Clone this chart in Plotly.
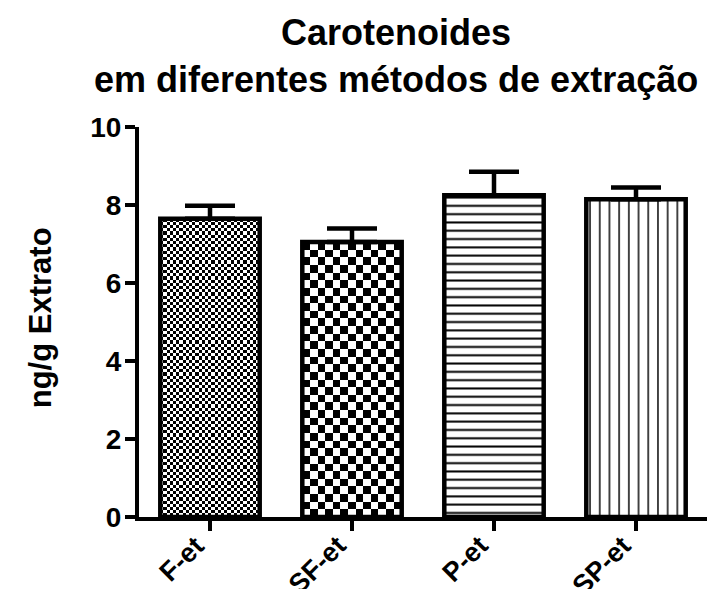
import numpy as np
import plotly.graph_objects as go

# Carotenoid content per extraction method (mean and upper error)
categories = ["F-et", "SF-et", "P-et", "SP-et"]
means = [7.65, 7.05, 8.25, 8.15]
errors = [0.33, 0.35, 0.60, 0.30]
y_ticks = [0, 2, 4, 6, 8, 10]

W, H = 707, 589
MARGIN = dict(l=139, r=0, t=127, b=72)
BAR_W = 0.7
FONT = "Liberation Sans, Arial, sans-serif"

x = np.arange(len(categories))
px_per_x = (W - MARGIN["l"] - MARGIN["r"]) / len(categories)
px_per_y = (H - MARGIN["t"] - MARGIN["b"]) / (y_ticks[-1] - y_ticks[0])

fig = go.Figure()


def add_checker_fill(i, cell_px):
    """Checkerboard texture filling bar i, built on the data axes."""
    ncol = max(1, round(BAR_W * px_per_x / cell_px))
    nrow = max(1, round(means[i] * px_per_y / cell_px))
    xe = np.linspace(x[i] - BAR_W / 2, x[i] + BAR_W / 2, ncol + 1)
    ye = np.linspace(0, means[i], nrow + 1)
    z = np.add.outer(np.arange(nrow), np.arange(ncol)) % 2
    fig.add_trace(go.Heatmap(
        x=xe, y=ye, z=z, zmin=0, zmax=1,
        colorscale=[[0, "white"], [1, "black"]],
        showscale=False, zsmooth=False, hoverinfo="skip",
    ))


add_checker_fill(0, 3.2)   # fine checks
add_checker_fill(1, 7.6)   # coarse checks

# Fill style per bar: (fill colour, pattern shape, pattern size, solidity)
clear = "rgba(0,0,0,0)"
fills = [
    (clear, "", 8, 0.2),
    (clear, "", 8, 0.2),
    ("white", "-", 8.3, 0.24),
    ("white", "|", 9.7, 0.15),
]

for i, (fill, shape, size, solidity) in enumerate(fills):
    marker = dict(color=fill, line=dict(color="black", width=4.5))
    if shape:
        marker["pattern"] = dict(
            shape=shape, size=size, solidity=solidity,
            fgcolor="black", bgcolor="white", fillmode="replace",
        )
    fig.add_trace(go.Bar(
        x=[x[i]], y=[means[i]], width=BAR_W,
        marker=marker,
        error_y=dict(
            type="data", symmetric=False,
            array=[errors[i]], arrayminus=[0],
            color="black", thickness=4.5, width=25,
        ),
        hoverinfo="skip",
    ))

# Slanted category labels hung under each tick
category_labels = [
    dict(
        text=f"<b>{c}</b>", x=x[i], y=y_ticks[0],
        xref="x", yref="y", textangle=-45,
        xanchor="right", yanchor="top", xshift=3, yshift=-11,
        showarrow=False, font=dict(size=27, family=FONT),
    )
    for i, c in enumerate(categories)
]

fig.update_layout(
    width=W, height=H,
    margin=MARGIN,
    barmode="overlay",
    paper_bgcolor="white", plot_bgcolor="white",
    showlegend=False,
    font=dict(family=FONT, color="black"),
    xaxis=dict(
        range=[-0.5, len(categories) - 0.5],
        tickvals=list(x), showticklabels=False,
        ticks="outside", ticklen=10, tickwidth=4, tickcolor="black",
        showline=True, linewidth=4, linecolor="black",
        showgrid=False, zeroline=False, automargin=False,
    ),
    yaxis=dict(
        range=[y_ticks[0], y_ticks[-1]],
        tickvals=y_ticks, ticktext=[f"<b>{t}</b>" for t in y_ticks],
        tickfont=dict(size=28, family=FONT),
        ticklabelstandoff=-2,
        ticks="outside", ticklen=10, tickwidth=4, tickcolor="black",
        showline=True, linewidth=4, linecolor="black",
        showgrid=False, zeroline=False, automargin=False,
    ),
    annotations=category_labels + [
        dict(
            text="<b>Carotenoides<br>em diferentes métodos de extração</b>",
            xref="paper", yref="paper",
            x=(396 - MARGIN["l"]) / (W - MARGIN["l"]),
            y=1.182, xanchor="center", yanchor="middle",
            showarrow=False, font=dict(size=36, family=FONT),
        ),
        dict(
            text="<b>ng/g Extrato</b>",
            xref="paper", yref="paper",
            x=-0.174, y=0.51, textangle=-90,
            xanchor="center", yanchor="middle",
            showarrow=False, font=dict(size=31, family=FONT),
        ),
    ],
)

fig.write_html("out.html")
